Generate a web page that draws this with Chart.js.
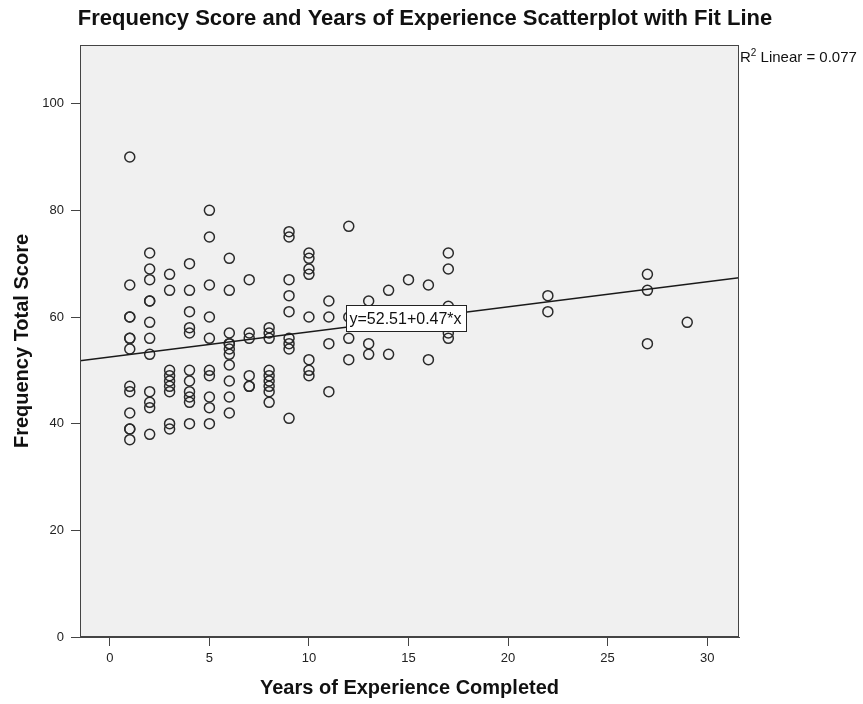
<!DOCTYPE html>
<html>
<head>
<meta charset="utf-8">
<title>Frequency Score and Years of Experience</title>
<script src="https://cdn.jsdelivr.net/npm/chart.js@4.4.0/dist/chart.umd.min.js"></script>
<style>
  html, body { margin: 0; padding: 0; background: #fff; }
  #wrap { width: 863px; height: 704px; }
</style>
</head>
<body>
<div id="wrap"><canvas id="scatterChart" width="863" height="704"></canvas></div>
<script>
// years of experience (x) and frequency total score (y), read column by column
const experienceYears = [
  1, 1, 1, 1, 1, 1, 1, 1, 1, 1, 1, 1, 1,
  2, 2, 2, 2, 2, 2, 2, 2, 2, 2, 2, 2,
  3, 3, 3, 3, 3, 3, 3, 3, 3,
  4, 4, 4, 4, 4, 4, 4, 4, 4, 4, 4,
  5, 5, 5, 5, 5, 5, 5, 5, 5, 5,
  6, 6, 6, 6, 6, 6, 6, 6, 6, 6, 6,
  7, 7, 7, 7, 7, 7,
  8, 8, 8, 8, 8, 8, 8, 8, 8,
  9, 9, 9, 9, 9, 9, 9, 9, 9,
  10, 10, 10, 10, 10, 10, 10, 10,
  11, 11, 11, 11,
  12, 12, 12, 12,
  13, 13, 13,
  14, 14,
  15,
  16, 16,
  17, 17, 17, 17, 17,
  22, 22,
  27, 27, 27,
  29
];
const frequencyScores = [
  90, 66, 60, 60, 56, 56, 54, 47, 46, 42, 39, 39, 37,
  72, 69, 67, 63, 63, 59, 56, 53, 46, 44, 43, 38,
  68, 65, 50, 49, 48, 47, 46, 40, 39,
  70, 65, 61, 58, 57, 50, 48, 46, 45, 44, 40,
  80, 75, 66, 60, 56, 50, 49, 45, 43, 40,
  71, 65, 57, 55, 55, 54, 53, 51, 48, 45, 42,
  67, 57, 56, 49, 47, 47,
  58, 57, 56, 50, 49, 48, 47, 46, 44,
  76, 75, 67, 64, 61, 56, 55, 54, 41,
  72, 71, 69, 68, 60, 52, 50, 49,
  63, 60, 55, 46,
  77, 60, 56, 52,
  63, 55, 53,
  65, 53,
  67,
  66, 52,
  72, 69, 62, 57, 56,
  64, 61,
  68, 65, 55,
  59
];

const xTicks = [0, 5, 10, 15, 20, 25, 30];
const yTicks = [0, 20, 40, 60, 80, 100];

// fit line printed on the chart
const fitIntercept = 52.51;
const fitSlope = 0.47;
const rSquared = 0.077;
const equationAtX = 11.85; // where the equation label sits on the line

const X_MIN = -1.5, X_MAX = 31.6;
const Y_MIN = 0, Y_MAX = 111;

const FONT = "'Liberation Sans', Arial, Helvetica, sans-serif";
Chart.defaults.font.family = FONT;

const points = experienceYears.map((x, i) => ({ x: x, y: frequencyScores[i] }));
const fitLine = [X_MIN, X_MAX].map(x => ({ x: x, y: fitIntercept + fitSlope * x }));

// background, frame, title and the labels that sit on top of the plot
const decorations = {
  id: 'decorations',
  beforeDraw(chart) {
    const a = chart.chartArea, ctx = chart.ctx;
    ctx.save();
    ctx.fillStyle = '#f0f0f0';
    ctx.fillRect(a.left, a.top, a.right - a.left, a.bottom - a.top);
    ctx.restore();
  },
  afterDraw(chart) {
    const a = chart.chartArea, ctx = chart.ctx;
    const xs = chart.scales.x, ys = chart.scales.y;
    ctx.save();

    // frame
    ctx.strokeStyle = '#444';
    ctx.lineWidth = 1;
    ctx.strokeRect(Math.round(a.left) + 0.5, Math.round(a.top) + 0.5,
      Math.round(a.right - a.left) - 1, Math.round(a.bottom - a.top) - 1);

    // chart title
    ctx.fillStyle = '#111';
    ctx.font = 'bold 22px ' + FONT;
    ctx.textAlign = 'center';
    ctx.textBaseline = 'middle';
    ctx.fillText('Frequency Score and Years of Experience Scatterplot with Fit Line', 425, 19);

    // R squared, with a raised 2
    ctx.textAlign = 'left';
    ctx.textBaseline = 'alphabetic';
    let tx = a.right + 1;
    ctx.font = '15px ' + FONT;
    ctx.fillText('R', tx, 62);
    tx += ctx.measureText('R').width;
    ctx.font = '10px ' + FONT;
    ctx.fillText('2', tx, 56);
    tx += ctx.measureText('2').width;
    ctx.font = '15px ' + FONT;
    ctx.fillText(' Linear = ' + rSquared.toFixed(3), tx, 62);

    // equation box
    const eq = 'y=' + fitIntercept.toFixed(2) + '+' + fitSlope.toFixed(2) + '*x';
    ctx.font = '16px ' + FONT;
    const w = Math.round(ctx.measureText(eq).width + 8);
    const h = 26;
    const bx = Math.round(xs.getPixelForValue(equationAtX)) + 0.5;
    const by = Math.round(ys.getPixelForValue(fitIntercept + fitSlope * equationAtX)) + 4.5 - h;
    ctx.fillStyle = '#fff';
    ctx.fillRect(bx, by, w, h);
    ctx.strokeStyle = '#222';
    ctx.strokeRect(bx, by, w, h);
    ctx.fillStyle = '#111';
    ctx.textBaseline = 'middle';
    ctx.fillText(eq, bx + 3, by + h / 2 + 1);

    ctx.restore();
  }
};

const ctx = document.getElementById('scatterChart').getContext('2d');
new Chart(ctx, {
  type: 'scatter',
  data: {
    datasets: [
      {
        label: 'Frequency Total Score',
        data: points,
        pointRadius: 5,
        pointHoverRadius: 5,
        pointBorderWidth: 1.5,
        pointBorderColor: '#2a2a2a',
        pointBackgroundColor: 'rgba(0,0,0,0)',
        order: 2
      },
      {
        type: 'line',
        label: 'Fit line',
        data: fitLine,
        borderColor: '#1a1a1a',
        borderWidth: 1.5,
        pointRadius: 0,
        fill: false,
        order: 1
      }
    ]
  },
  options: {
    responsive: false,
    animation: false,
    layout: { padding: { left: 0, right: 124, top: 45, bottom: 0 } },
    plugins: {
      legend: { display: false },
      tooltip: { enabled: false },
      title: { display: false }
    },
    scales: {
      x: {
        type: 'linear',
        min: X_MIN,
        max: X_MAX,
        afterBuildTicks: scale => { scale.ticks = xTicks.map(v => ({ value: v })); },
        afterFit: scale => { scale.height = 67; },
        grid: { display: true, drawOnChartArea: false, drawTicks: true, tickLength: 9, color: '#444' },
        border: { display: true, color: '#444' },
        ticks: { color: '#222', font: { size: 13 }, padding: 5, maxRotation: 0 },
        title: {
          display: true,
          text: 'Years of Experience Completed',
          color: '#111',
          font: { size: 20, weight: 'bold' },
          padding: { top: 0, bottom: 4 }
        }
      },
      y: {
        type: 'linear',
        min: Y_MIN,
        max: Y_MAX,
        afterBuildTicks: scale => { scale.ticks = yTicks.map(v => ({ value: v })); },
        afterFit: scale => { scale.width = 80; },
        grid: { display: true, drawOnChartArea: false, drawTicks: true, tickLength: 9, color: '#444' },
        border: { display: true, color: '#444' },
        ticks: { color: '#222', font: { size: 13 }, padding: 7 },
        title: {
          display: true,
          text: 'Frequency Total Score',
          color: '#111',
          font: { size: 20, weight: 'bold' },
          padding: { top: 10, bottom: 0 }
        }
      }
    }
  },
  plugins: [decorations]
});
</script>
</body>
</html>
